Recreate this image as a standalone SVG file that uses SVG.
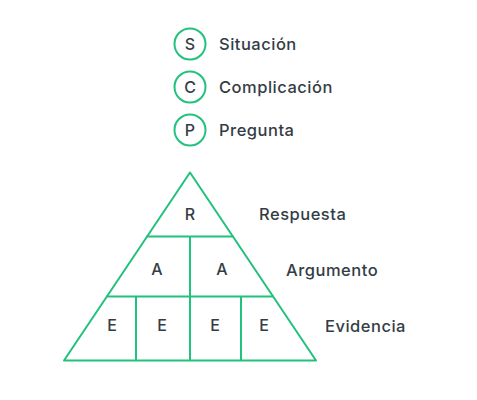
<svg xmlns="http://www.w3.org/2000/svg" width="477" height="400" viewBox="0 0 477 400">
<style>
.t{font-family:Inter,"Liberation Sans",sans-serif;font-weight:500;fill:#343d46;font-size:16.5px;letter-spacing:0.5px}
.c{text-anchor:middle;font-size:16px;letter-spacing:0}
.g{fill:none;stroke:#22c17e;stroke-width:2;stroke-linejoin:round}
</style>
<rect width="477" height="400" fill="#fff"/>
<g id="legend-s"><circle class="g" cx="190" cy="44" r="15.5"/><text class="t c" x="190" y="49.5">S</text><text class="t" x="219" y="50">Situación</text></g>
<g id="legend-c"><circle class="g" cx="190" cy="87" r="15.5"/><text class="t c" x="190" y="92.5">C</text><text class="t" x="219" y="93">Complicación</text></g>
<g id="legend-p"><circle class="g" cx="190" cy="130" r="15.5"/><text class="t c" x="190" y="135.5">P</text><text class="t" x="219" y="136">Pregunta</text></g>
<g id="pyramid">
<path class="g" d="M190 172.5 L316 360.5 L64 360.5 Z"/>
<path class="g" d="M146.5 236.5 H233.5 M106 296.5 H274 M190 236.5 V360.5 M136 296.5 V360.5 M241 296.5 V360.5"/>
</g>
<g id="r"><text class="t c" x="190" y="220">R</text></g>
<g id="a1"><text class="t c" x="157" y="275">A</text></g>
<g id="a2"><text class="t c" x="222" y="275">A</text></g>
<g id="e1"><text class="t c" x="112" y="331">E</text></g>
<g id="e2"><text class="t c" x="162" y="331">E</text></g>
<g id="e3"><text class="t c" x="215" y="331">E</text></g>
<g id="e4"><text class="t c" x="264" y="331">E</text></g>
<g id="labels">
<text class="t" x="259" y="220">Respuesta</text>
<text class="t" x="286" y="276">Argumento</text>
<text class="t" x="325" y="332">Evidencia</text>
</g>
<g id="connectors"/>
</svg>
